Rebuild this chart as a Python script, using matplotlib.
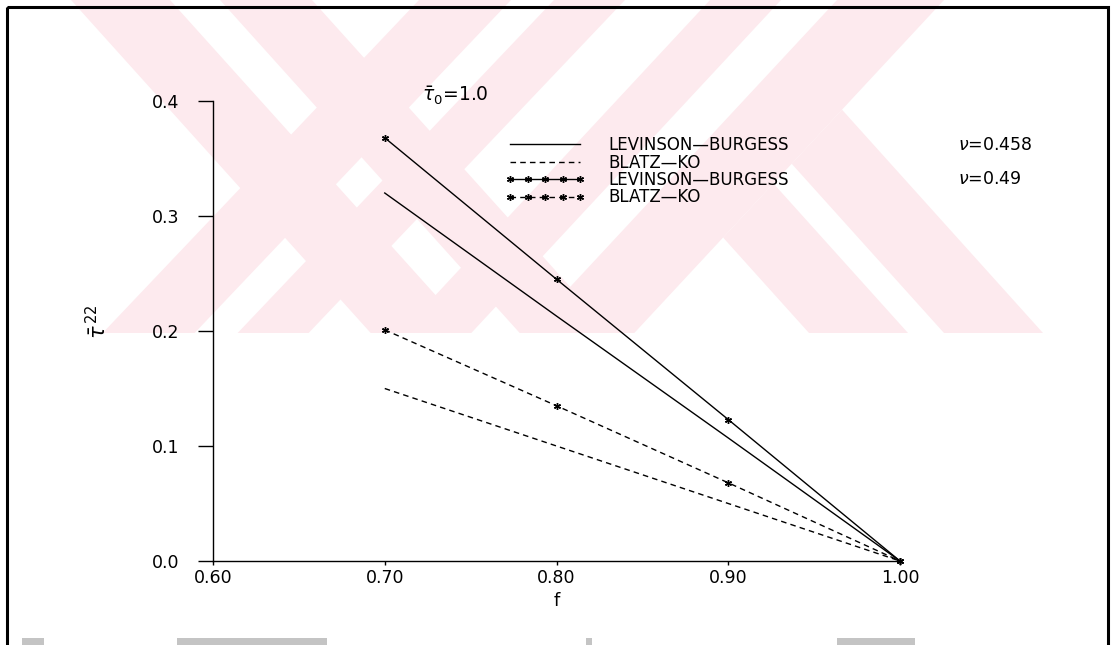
import numpy as np
import matplotlib.pyplot as plt
from matplotlib.patches import Polygon, Rectangle

# stress ratio f and normalised stress tau^22, tau_0 = 1.0
f = [0.70, 0.80, 0.90, 1.00]

# nu = 0.458
lb_458 = [0.320, 0.213, 0.107, 0.0]
bk_458 = [0.150, 0.100, 0.050, 0.0]

# nu = 0.49
lb_49 = [0.368, 0.245, 0.123, 0.0]
bk_49 = [0.201, 0.135, 0.068, 0.0]

x_ticks = [0.60, 0.70, 0.80, 0.90, 1.00]
y_ticks = [0.0, 0.1, 0.2, 0.3, 0.4]
labels = ['LEVINSON—BURGESS', 'BLATZ—KO', 'LEVINSON—BURGESS', 'BLATZ—KO']

W, H = 1113, 645
fig = plt.figure(figsize=(W / 100, H / 100), dpi=100)

# page layer (pixel coordinates): faint stamp and border
bg = fig.add_axes([0, 0, 1, 1], zorder=0)
bg.set_xlim(0, W)
bg.set_ylim(H, 0)
bg.axis('off')

pink = '#fdeaee'
cut = 333


def band(x0, x1, s):
    return [(x0, 0), (x1, 0), (x1 + s * cut, cut), (x0 + s * cut, cut)]


for x0, x1, s in [(71, 170, 0.9), (220, 312, 0.9),
                  (419, 511, -0.95), (554, 625, -0.95),
                  (710, 781, -0.93), (837, 944, -0.93)]:
    bg.add_patch(Polygon(band(x0, x1, s), closed=True, fc=pink, ec='none'))

# short arm branching off the right stroke
for xb0, xb1 in [(809, 908), (944, 1043)]:
    top = []
    for xb in (xb0, xb1):
        yt = (944 - xb + 0.9 * cut) / (0.9 + 0.93)
        top.append((xb + 0.9 * (yt - cut), yt))
    bg.add_patch(Polygon([top[0], top[1], (xb1, cut), (xb0, cut)],
                         closed=True, fc=pink, ec='none'))

bg.add_patch(Rectangle((7, 7), 1101, 700, fill=False, ec='black', lw=2.2))
for x0, w in [(22, 22), (177, 150), (586, 6), (837, 78)]:
    bg.add_patch(Rectangle((x0, 638), w, 7, fc='#c4c4c4', ec='none'))

# plot axes
ax = fig.add_axes([213 / W, (H - 561) / H, 687 / W, 460 / H], zorder=1)
ax.patch.set_visible(False)

ast = (6, 2, 0)
ax.plot(f, lb_458, color='k', lw=1.0, label=labels[0], clip_on=False)
ax.plot(f, bk_458, color='k', lw=1.0, ls=(0, (4, 3)), label=labels[1], clip_on=False)
ax.plot(f, lb_49, color='k', lw=1.0, marker=ast, ms=5, mew=1.0,
        label=labels[2], clip_on=False)
ax.plot(f, bk_49, color='k', lw=1.0, ls=(0, (4, 3)), marker=ast, ms=5, mew=1.0,
        label=labels[3], clip_on=False)

ax.set_xlim(0.6, 1.0)
ax.set_ylim(0.0, 0.4)
ax.set_xticks(x_ticks)
ax.set_xticklabels(['%.2f' % v for v in x_ticks])
ax.set_yticks(y_ticks)
ax.set_yticklabels(['%.1f' % v for v in y_ticks])

for side in ['top', 'right']:
    ax.spines[side].set_visible(False)
ax.spines['left'].set_linewidth(1.0)
ax.spines['bottom'].set_linewidth(1.0)

ax.tick_params(axis='y', direction='out', length=11, width=1.0, pad=13, labelsize=12.5)
ax.tick_params(axis='x', direction='out', length=3, width=1.0, pad=3, labelsize=12.5)

ax.set_xlabel('f', fontsize=13)
ax.xaxis.set_label_coords(0.5, -0.068)
ax.set_ylabel(r'$\bar{\tau}^{\,22}$', fontsize=15)
ax.yaxis.set_label_coords(-0.15, 0.52)

ax.text(0.7217, 0.399, r'$\bar{\tau}_0$=1.0', fontsize=13.5, va='baseline')

ax.legend(loc='upper left', bbox_to_anchor=(505 / W, 1 - 136 / H),
          bbox_transform=fig.transFigure, frameon=False, fontsize=12,
          handlelength=4.8, handletextpad=1.4, labelspacing=-0.03,
          borderpad=0, borderaxespad=0, numpoints=5)

fig.text(958 / W, 1 - 145 / H, r'$\nu$=0.458', fontsize=12.5, va='center')
fig.text(958 / W, 1 - 179 / H, r'$\nu$=0.49', fontsize=12.5, va='center')

fig.savefig('out.png', dpi=100)
